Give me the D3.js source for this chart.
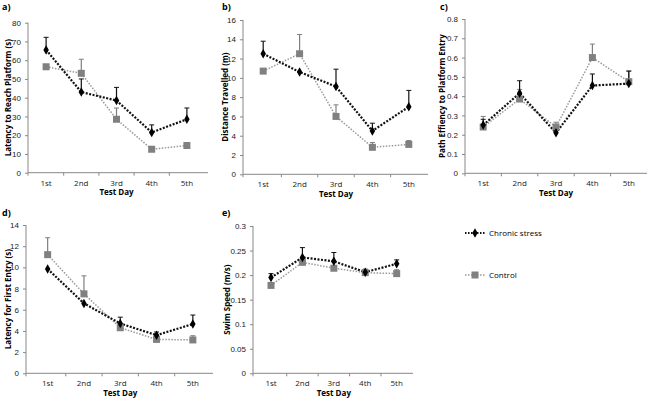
<!DOCTYPE html>
<html>
<head>
<meta charset="utf-8">
<script src="https://cdn.jsdelivr.net/npm/d3@7"></script>
<style>
body{margin:0;background:#fff}
svg{font-family:"Open Sans","Liberation Sans",sans-serif}
</style>
</head>
<body>
<svg id="chart" width="648" height="400"></svg>
<script>
// test days
var days=["1st","2nd","3rd","4th","5th"]

// a) latency to reach platform (s)
var latencyStress=[65.5,43,38.5,21.5,28.5]
var latencyStressErr=[6.7,7,7,4,6]
var latencyControl=[56.5,53,28.5,12.5,14.5]
var latencyControlErr=[0,7.5,6,1.5,1.5]
var latencyTicks=[0,10,20,30,40,50,60,70,80]

// b) distance travelled (m)
var distStress=[12.5,10.6,9.1,4.5,7.0]
var distStressErr=[1.3,0,1.8,0.8,1.7]
var distControl=[10.7,12.5,6.0,2.8,3.1]
var distControlErr=[0,2,1.2,0.5,0.4]
var distTicks=[0,2,4,6,8,10,12,14,16]

// c) path efficiency to platform entry
var pathStress=[0.25,0.415,0.21,0.455,0.465]
var pathStressErr=[0.03,0.065,0,0.06,0.065]
var pathControl=[0.24,0.385,0.24,0.60,0.475]
var pathControlErr=[0.055,0.05,0.025,0.07,0.055]
var pathTicks=[0,0.1,0.2,0.3,0.4,0.5,0.6,0.7,0.8]

// d) latency for first entry (s)
var firstStress=[9.85,6.6,4.7,3.6,4.65]
var firstStressErr=[0,0,0.6,0.3,0.85]
var firstControl=[11.2,7.5,4.3,3.2,3.15]
var firstControlErr=[1.6,1.7,0,0,0.4]
var firstTicks=[0,2,4,6,8,10,12,14]

// e) swim speed (m/s)
var speedStress=[0.195,0.236,0.228,0.206,0.223]
var speedStressErr=[0.008,0.02,0.018,0.006,0.008]
var speedControl=[0.179,0.226,0.214,0.205,0.203]
var speedControlErr=[0,0,0,0,0.008]
var speedTicks=[0,0.05,0.1,0.15,0.2,0.25,0.3]

var seriesNames=["Chronic stress","Control"]

var svg=d3.select("#chart")

var panels=[
 {tag:"a)",title:"Latency to Reach Platform (s)",s:latencyStress,se:latencyStressErr,c:latencyControl,ce:latencyControlErr,ticks:latencyTicks,
  ax:28,x0:28.5,x1:204.5,xEnd:208,yTop:22.7,yBot:172.7,tagX:2,tagY:10,titleX:7},
 {tag:"b)",title:"Distance Travelled (m)",s:distStress,se:distStressErr,c:distControl,ce:distControlErr,ticks:distTicks,
  ax:243,x0:245,x1:427,xEnd:428,yTop:20,yBot:174.3,tagX:222,tagY:10,titleX:224},
 {tag:"c)",title:"Path Effiency to Platform Entry",s:pathStress,se:pathStressErr,c:pathControl,ce:pathControlErr,ticks:pathTicks,
  ax:465,x0:465,x1:647,xEnd:647,yTop:19,yBot:173.3,tagX:440,tagY:10,titleX:441},
 {tag:"d)",title:"Latency for First Entry (s)",s:firstStress,se:firstStressErr,c:firstControl,ce:firstControlErr,ticks:firstTicks,
  ax:26,x0:29.5,x1:211,xEnd:213,yTop:225,yBot:373.3,tagX:2,tagY:216,titleX:7},
 {tag:"e)",title:"Swim Speed (m/s)",s:speedStress,se:speedStressErr,c:speedControl,ce:speedControlErr,ticks:speedTicks,
  ax:253,x0:255.3,x1:412.4,xEnd:413,yTop:226,yBot:373.3,tagX:222,tagY:216,titleX:226}
]

var drawPanel=function(p){
    var g=svg.append("g")
    var xScale=d3.scaleBand().domain(days).range([p.x0,p.x1])
    var yScale=d3.scaleLinear()
        .domain([0,d3.max(p.ticks)])
        .range([p.yBot,p.yTop])

    // y axis
    var yAxis=g.append("g")
        .attr("transform","translate("+p.ax+",0)")
        .call(d3.axisLeft(yScale).tickValues(p.ticks).tickSize(3).tickPadding(4).tickFormat(function(d){return +d.toFixed(2)}))
    yAxis.select(".domain").attr("stroke","#888").attr("d","M0,"+p.yTop+"V"+p.yBot)
    yAxis.selectAll(".tick line").attr("stroke","#888")
    yAxis.selectAll("text").attr("font-size",8).attr("fill","#222")

    // x axis with ticks between categories
    var xg=g.append("g").attr("transform","translate(0,"+p.yBot+")")
    xg.append("line").attr("x1",p.ax).attr("x2",p.xEnd).attr("stroke","#888")
    var bounds=days.map(function(d){return xScale(d)+xScale.bandwidth()}).slice(0,4)
    xg.selectAll(".tk").data(bounds).enter().append("line")
        .attr("x1",function(d){return d}).attr("x2",function(d){return d})
        .attr("y1",0).attr("y2",3).attr("stroke","#888")
    xg.append("line").attr("x1",p.ax).attr("x2",p.ax).attr("y1",0).attr("y2",3).attr("stroke","#888")
    xg.selectAll(".lbl").data(days).enter().append("text")
        .attr("x",function(d){return xScale(d)+xScale.bandwidth()/2})
        .attr("y",13).attr("text-anchor","middle").attr("font-size",8).attr("fill","#222")
        .text(function(d){return d})
    xg.append("text").attr("x",(p.x0+p.x1)/2).attr("y",22.5)
        .attr("text-anchor","middle").attr("font-size",8).attr("font-weight","bold").text("Test Day")

    // y title
    g.append("text")
        .attr("transform","translate("+(p.titleX+4)+","+((p.yTop+p.yBot)/2)+") rotate(-90)")
        .attr("text-anchor","middle").attr("font-size",8).attr("font-weight","bold")
        .text(p.title)
    // panel tag
    g.append("text").attr("x",p.tagX).attr("y",p.tagY)
        .attr("font-size",9).attr("font-weight","bold").text(p.tag)

    var cx=function(d,i){return xScale(days[i])+xScale.bandwidth()/2}
    var line=d3.line().x(function(d,i){return cx(d,i)}).y(function(d){return yScale(d)})

    // error bars (upper only)
    var drawErr=function(vals,errs,col){
        var eb=g.append("g")
        vals.forEach(function(v,i){
            if(!errs[i])return
            var x=cx(v,i)
            eb.append("line").attr("x1",x).attr("x2",x)
                .attr("y1",yScale(v)).attr("y2",yScale(v+errs[i])).attr("stroke",col).attr("stroke-width",1.2)
            eb.append("line").attr("x1",x-2.5).attr("x2",x+2.5)
                .attr("y1",yScale(v+errs[i])).attr("y2",yScale(v+errs[i])).attr("stroke",col).attr("stroke-width",1)
        })
    }
    drawErr(p.c,p.ce,"#7f7f7f")
    drawErr(p.s,p.se,"#111")

    g.append("path").datum(p.c).attr("d",line).attr("fill","none")
        .attr("stroke","#999").attr("stroke-width",1.5).attr("stroke-dasharray","1.5,1.5")
    g.append("path").datum(p.s).attr("d",line).attr("fill","none")
        .attr("stroke","#111").attr("stroke-width",2.2).attr("stroke-dasharray","2,1.5")

    g.selectAll(".sq").data(p.c).enter().append("rect")
        .attr("x",function(d,i){return cx(d,i)-3.5}).attr("y",function(d){return yScale(d)-3.5})
        .attr("width",7).attr("height",7).attr("fill","#808080")
    g.selectAll(".dm").data(p.s).enter().append("path")
        .attr("d",d3.symbol().type(d3.symbolDiamond).size(26))
        .attr("transform",function(d,i){return "translate("+cx(d,i)+","+yScale(d)+")"})
        .attr("fill","#000")
}

panels.forEach(drawPanel)

// legend
var legend=svg.append("g")
var legY=[233,275]
seriesNames.forEach(function(name,i){
    var y=legY[i]
    legend.append("line").attr("x1",465).attr("x2",485).attr("y1",y).attr("y2",y)
        .attr("stroke",i==0?"#111":"#999").attr("stroke-width",i==0?2:1.5).attr("stroke-dasharray","1.5,1.5")
    if(i==0){
        legend.append("path").attr("d",d3.symbol().type(d3.symbolDiamond).size(26))
            .attr("transform","translate(475,"+y+")")
    }else{
        legend.append("rect").attr("x",471.5).attr("y",y-3.5).attr("width",7).attr("height",7).attr("fill","#808080")
    }
    legend.append("text").attr("x",489).attr("y",y+3).attr("font-size",8).text(name)
})
</script>
</body>
</html>
